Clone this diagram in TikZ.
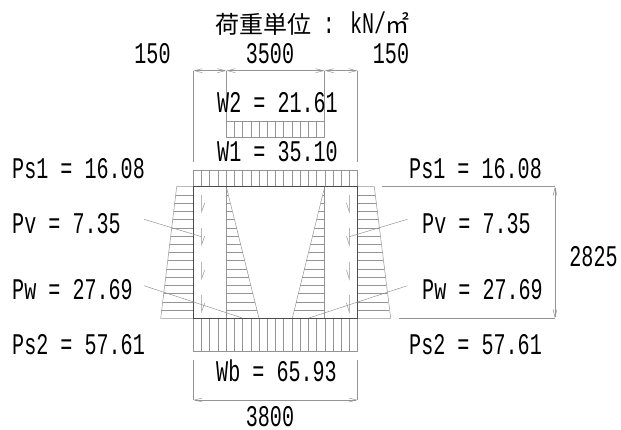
\documentclass[tikz,border=0pt]{standalone}
\usepackage{fontspec}
\setmainfont[FakeStretch=0.67]{Liberation Mono}
\newfontfamily\cjk{Noto Sans CJK JP}
\usetikzlibrary{arrows.meta}
\tikzset{
  thinline/.style={draw=black!42, line width=0.5pt},
  wallline/.style={draw=black!70, line width=0.8pt},
  dimline/.style={thinline, {Straight Barb[length=8pt,width=4pt]}-{Straight Barb[length=8pt,width=4pt]}},
  loadtext/.style={inner sep=0pt, anchor=west, font=\fontsize{30}{30}\selectfont},
  dimtext/.style={inner sep=0pt, font=\fontsize{30}{30}\selectfont}
}
\begin{document}
\begin{tikzpicture}[x=1pt, y=-1pt]
\useasboundingbox (0, 0) rectangle (621, 430);

% frame corners
\coordinate (tl) at (193.3, 186.7);
\coordinate (tr) at (357.7, 186.7);
\coordinate (bl) at (193.3, 318.3);
\coordinate (br) at (357.7, 318.3);

% top and bottom loads
\draw[thinline] (226.3, 121) rectangle (324.7, 137.3);
\foreach \i in {1,...,11}
  \draw[thinline] (226.3+8.2*\i, 121) -- (226.3+8.2*\i, 137.3);
\draw[thinline] (193.3, 170.7) -- (357.7, 170.7);
\draw[thinline] (193.3, 351.3) -- (357.7, 351.3);
\foreach \i in {0,...,20} {
  \draw[thinline] (193.3+8.22*\i, 170.7) -- (193.3+8.22*\i, 186.7);
  \draw[thinline] (193.3+8.22*\i, 318.3) -- (193.3+8.22*\i, 351.3);
}

% side pressures
\draw[thinline] (tl) -- (176.7, 186.7) -- (160.7, 318.3) -- (bl);
\draw[thinline] (tr) -- (374.3, 186.7) -- (390.7, 318.3) -- (br);
\draw[thinline] (226.3, 186.7) -- (259, 318.3);
\draw[thinline] (324.7, 186.7) -- (292.3, 318.3);
\foreach \i in {1,...,15} {
  \draw[thinline] (193.3, 186.7+8.225*\i) -- (176.7-\i, 186.7+8.225*\i);
  \draw[thinline] (357.7, 186.7+8.225*\i) -- (374.3+\i, 186.7+8.225*\i);
  \draw[thinline] (226.3, 186.7+8.225*\i) -- (226.3+2.045*\i, 186.7+8.225*\i);
  \draw[thinline] (324.7, 186.7+8.225*\i) -- (324.7-2.025*\i, 186.7+8.225*\i);
}
\draw[thinline] (226.3, 186.7) -- (226.3, 318.3);
\draw[thinline] (324.7, 186.7) -- (324.7, 318.3);

% weight arrows in the walls
\foreach \y in {195, 228, 262, 295} {
  \draw[thinline] (201.5, \y) -- (201.5, \y+17) -- (204.7, \y+8);
  \draw[thinline] (349.3, \y) -- (349.3, \y+17) -- (346.5, \y+8);
}

% frame
\draw[wallline] (tl) -- (tr) -- (br) -- (bl) -- cycle;

% leaders
\coordinate (pvl) at (144, 219.3);
\coordinate (pwl) at (144, 285.7);
\coordinate (pvr) at (407.3, 219.3);
\coordinate (pwr) at (407.3, 285.7);
\draw[thinline] (pvl) -- (201.5, 236.7);
\draw[thinline] (pwl) -- (241.7, 317.8);
\draw[thinline] (pvr) -- (349.3, 236.7);
\draw[thinline] (pwr) -- (309, 318);

% dimensions
\coordinate (dima) at (193.3, 70.7);
\coordinate (dimb) at (226.3, 70.7);
\coordinate (dimc) at (324.7, 70.7);
\coordinate (dimd) at (357.7, 70.7);
\coordinate (dime) at (193.3, 400);
\coordinate (dimf) at (357.7, 400);
\coordinate (dimg) at (555, 186.7);
\coordinate (dimh) at (555, 318.3);
\draw[thinline] (dima) -- (193.3, 161.7);
\draw[thinline] (dimb) -- (226.3, 121);
\draw[thinline] (dimc) -- (324.7, 121);
\draw[thinline] (dimd) -- (357.7, 161.7);
\draw[thinline] (193.3, 360) -- (dime);
\draw[thinline] (357.7, 360) -- (dimf);
\draw[thinline] (382.3, 186.7) -- (dimg);
\draw[thinline] (399, 318.3) -- (dimh);
\draw[dimline] (dima) -- (dimb);
\draw[dimline] (dimb) -- (dimc);
\draw[dimline] (dimc) -- (dimd);
\draw[dimline] (dime) -- (dimf);
\draw[dimline] (dimg) -- (dimh);

% texts
\node[dimtext] (title) at (312.5, 24) {{\cjk\fontsize{24}{24}\selectfont 荷重単位}\hspace{-1pt} : \hspace{-1pt}kN/\hspace{-1pt}{\cjk\fontsize{24}{24}\selectfont ㎡}};
\node[dimtext] (dleft) at (152.5, 54) {150};
\node[dimtext] (dmid) at (270, 54) {3500};
\node[dimtext] (dright) at (391, 54) {150};
\node[dimtext] (dbot) at (270, 417) {3800};
\node[dimtext] (dside) at (593.5, 257) {2825};
\node[loadtext] (wtwo) at (217, 103) {W2 = 21.61};
\node[loadtext] (wone) at (217, 152) {W1 = 35.10};
\node[loadtext] (wb) at (216, 371) {Wb = 65.93};
\node[loadtext] (psal) at (12, 168.5) {Ps1 = 16.08};
\node[loadtext] (pvlt) at (12, 224) {Pv = 7.35};
\node[loadtext] (pwlt) at (12, 290) {Pw = 27.69};
\node[loadtext] (psbl) at (12, 345) {Ps2 = 57.61};
\node[loadtext] (psar) at (409, 168.5) {Ps1 = 16.08};
\node[loadtext] (pvrt) at (422, 224) {Pv = 7.35};
\node[loadtext] (pwrt) at (422, 290) {Pw = 27.69};
\node[loadtext] (psbr) at (409, 345) {Ps2 = 57.61};
\end{tikzpicture}
\end{document}
